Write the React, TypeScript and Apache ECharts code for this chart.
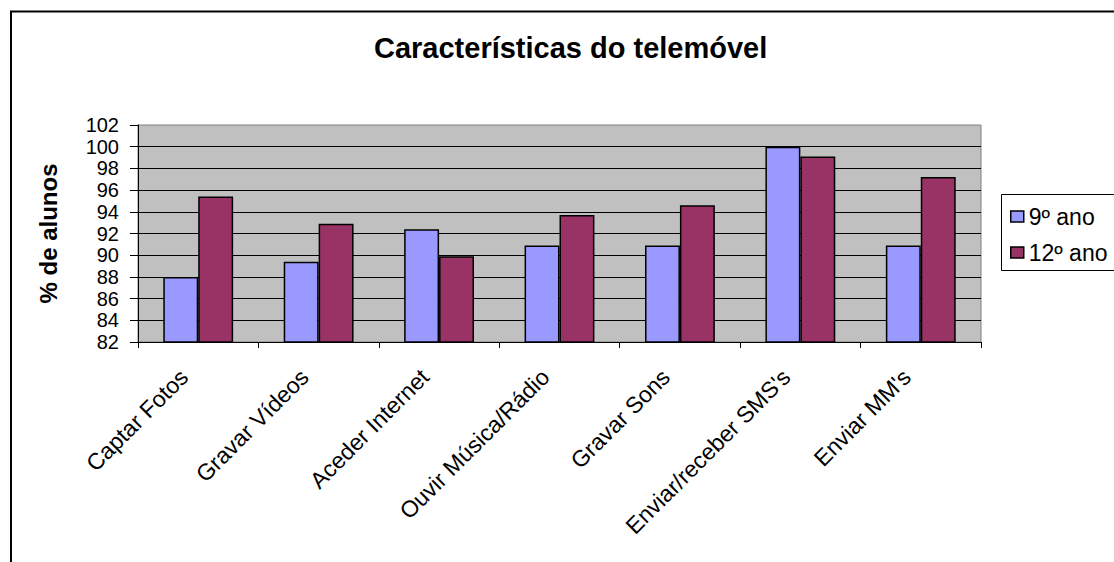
import React, { useEffect, useRef } from "react";
import * as echarts from "echarts";

const categories = [
  "Captar Fotos",
  "Gravar Vídeos",
  "Aceder Internet",
  "Ouvir Música/Rádio",
  "Gravar Sons",
  "Enviar/receber SMS's",
  "Enviar MM's",
];
const seriesNames = ["9º ano", "12º ano"];
const values9 = [88.0, 89.4, 92.4, 90.9, 90.9, 100.0, 90.9];
const values12 = [95.4, 92.9, 89.9, 93.7, 94.6, 99.1, 97.2];
const yMin = 82;
const yMax = 102;
const yStep = 2;
const titleText = "Características do telemóvel";
const yAxisName = "% de alunos";

const FONT = "'Liberation Sans', Arial, Helvetica, sans-serif";

export default function App() {
  const ref = useRef<HTMLDivElement>(null);
  useEffect(() => {
    if (!ref.current) return;
    const chart = echarts.init(ref.current, null, { renderer: "svg" });
    chart.setOption({
      animation: false,
      backgroundColor: "#ffffff",
      textStyle: { fontFamily: FONT, color: "#000" },
      title: {
        text: titleText,
        left: 374,
        top: 33,
        padding: 0,
        textStyle: { fontFamily: FONT, fontSize: 29, fontWeight: "bold", color: "#000" },
      },
      graphic: [
        {
          type: "rect",
          z: 0,
          shape: { x: 11, y: 11.5, width: 3000, height: 3000 },
          style: { fill: "none", stroke: "#000", lineWidth: 2 },
        },
        {
          type: "rect",
          z: 0,
          shape: { x: 1001.5, y: 194.5, width: 300, height: 76 },
          style: { fill: "#fff", stroke: "#000", lineWidth: 1 },
        },
      ],
      legend: {
        orient: "vertical",
        left: 1010,
        top: 205,
        padding: 0,
        itemGap: 13,
        itemWidth: 13,
        itemHeight: 11,
        icon: "rect",
        z: 10,
        data: seriesNames,
        itemStyle: { borderColor: "#000", borderWidth: 1.5 },
        textStyle: { fontFamily: FONT, fontSize: 23, color: "#000" },
      },
      grid: {
        left: 138,
        top: 125,
        width: 843,
        height: 217,
        show: true,
        backgroundColor: "#C0C0C0",
        borderColor: "#808080",
        borderWidth: 1,
      },
      xAxis: {
        type: "category",
        data: categories,
        axisLine: { lineStyle: { color: "#000", width: 1 } },
        axisTick: { show: true, alignWithLabel: false, length: 6, lineStyle: { color: "#000" } },
        axisLabel: {
          rotate: 45,
          interval: 0,
          margin: 17,
          padding: [0, 20, 0, 0],
          fontFamily: FONT,
          fontSize: 23,
          color: "#000",
        },
      },
      yAxis: {
        type: "value",
        min: yMin,
        max: yMax,
        interval: yStep,
        name: yAxisName,
        nameLocation: "middle",
        nameRotate: 90,
        nameGap: 78,
        nameTextStyle: { fontFamily: FONT, fontSize: 24, fontWeight: "bold", color: "#000" },
        axisLine: { show: true, lineStyle: { color: "#000", width: 1 } },
        axisTick: { show: true, length: 8, lineStyle: { color: "#000" } },
        axisLabel: {
          margin: 19,
          fontFamily: FONT,
          fontSize: 20,
          color: "#000",
          showMinLabel: true,
          showMaxLabel: true,
          hideOverlap: false,
        },
        splitLine: { show: true, showMaxLine: false, lineStyle: { color: "#000", width: 1 } },
      },
      series: [
        {
          name: seriesNames[0],
          type: "bar",
          data: values9,
          barGap: "0%",
          barCategoryGap: "42%",
          itemStyle: { color: "#9999FF", borderColor: "#000", borderWidth: 1.5 },
        },
        {
          name: seriesNames[1],
          type: "bar",
          data: values12,
          barGap: "0%",
          barCategoryGap: "42%",
          itemStyle: { color: "#993366", borderColor: "#000", borderWidth: 1.5 },
        },
      ],
    });
    return () => chart.dispose();
  }, []);
  return (
    <div
      ref={ref}
      style={{ position: "absolute", left: 0, top: 0, width: 1114, height: 562 }}
    />
  );
}
